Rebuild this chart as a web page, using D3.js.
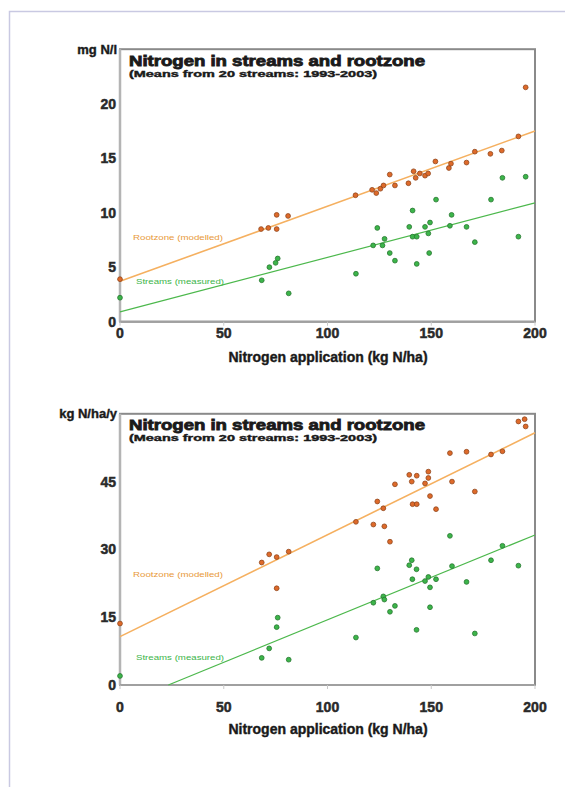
<!DOCTYPE html>
<html>
<head>
<meta charset="utf-8">
<script src="https://cdn.jsdelivr.net/npm/d3@7"></script>
<style>
  body { margin: 0; background: #fff; }
  text { font-family: "Liberation Sans", Arial, sans-serif; }
</style>
</head>
<body>
<div class="canvas"></div>
<script>
// --- data ---
const xTicks = [0, 50, 100, 150, 200];

// top: concentration, mg N/l
const concTicks = [0, 5, 10, 15, 20];
const concRoot = [
  [0, 3.9], [68, 8.5], [71.5, 8.6], [75.5, 8.5], [75.5, 9.8], [81, 9.7],
  [113.5, 11.6], [121.5, 12.1], [123.5, 11.8], [125.5, 12.2], [127, 12.5],
  [130, 13.5], [132.5, 12.5], [139, 12.7], [141.5, 13.8], [142.5, 13.2],
  [144.5, 13.6], [147, 13.4], [148.5, 13.6], [152, 14.7], [158.5, 14.1],
  [159.5, 14.5], [167, 14.6], [171, 15.6], [178.5, 15.4], [184, 15.7],
  [192, 17.0], [195.5, 21.5]
];
const concStream = [
  [0, 2.2], [68.3, 3.8], [72, 5.0], [75, 5.4], [76, 5.8], [81.3, 2.6],
  [113.7, 4.4], [122, 7.0], [124, 8.6], [126.5, 7.0], [127.5, 7.6],
  [130, 6.3], [132.5, 5.6], [139.4, 8.7], [141, 10.2], [141, 7.8],
  [143, 7.8], [143, 5.3], [147, 8.7], [148.6, 8.1], [149.4, 9.1],
  [149, 6.3], [152.3, 11.2], [159, 8.8], [159.8, 9.8], [167, 8.7],
  [171, 7.3], [178.8, 11.2], [184.3, 13.2], [192, 7.8], [195.5, 13.3]
];
const concRootFit = [[0, 3.7], [200, 17.5]];
const concStreamFit = [[0, 0.9], [200, 10.9]];

// bottom: load, kg N/ha/y
const loadTicks = [0, 15, 30, 45];
const loadRoot = [
  [0, 13.6], [68.3, 27.1], [71.9, 28.9], [75.5, 28.3], [81.3, 29.5], [75.5, 21.4],
  [113.7, 36.1], [122.1, 35.5], [124, 40.6], [126.9, 39.1], [127.4, 35.1],
  [130.1, 31.7], [132.5, 44.4], [139.4, 46.5], [140.6, 45.0], [143, 46.3],
  [141, 40.0], [143, 40.0], [147, 44.6], [148.6, 47.2], [148.6, 45.8],
  [149.4, 41.8], [152.3, 38.9], [159, 51.3], [160, 45.0], [167, 51.6],
  [171, 42.8], [178.8, 51.0], [184.3, 51.7], [192, 58.3], [195, 58.8], [195.5, 57.2]
];
const loadStream = [
  [0, 2.0], [68.3, 6.0], [71.9, 8.1], [75.5, 12.8], [76, 14.9], [81.3, 5.6],
  [113.7, 10.5], [122.1, 18.2], [124, 25.8], [126.9, 19.6], [127.4, 18.9],
  [130.1, 16.2], [132.5, 17.5], [139.4, 26.5], [140.6, 27.6], [140.9, 23.4],
  [142.9, 25.6], [142.9, 12.2], [147, 23.0], [148.6, 23.9], [149.4, 21.6],
  [149.4, 17.2], [152.3, 23.4], [159, 33.0], [160, 26.3], [167, 22.8],
  [171, 11.4], [178.8, 27.6], [184.3, 30.8], [192, 26.4]
];
const loadRootFit = [[0, 10.7], [200, 55.8]];
const loadStreamFit = [[23.3, 0], [200, 33.2]];

const title = 'Nitrogen in streams and rootzone';
const subtitle = '(Means from 20 streams: 1993-2003)';
const xTitle = 'Nitrogen application (kg N/ha)';
const rootLabel = 'Rootzone (modelled)';
const streamLabel = 'Streams (measured)';

const colRoot = '#de6a2a', colRootLine = '#f5b060';
const colStream = '#3cb54a', colStreamLine = '#4cb84c';

const svg = d3.select('.canvas')
    .append('svg')
    .attr('width', 565)
    .attr('height', 787)
;

// page frame
svg.append('rect')
    .attr('x', 9.5).attr('y', 11.5)
    .attr('width', 600).attr('height', 800)
    .attr('fill', 'none')
    .attr('stroke', '#c9c9e2')
    .attr('stroke-width', 1.5)
;

const drawChart = (cfg) => {
    const x = d3.scaleLinear().domain([0, 200]).range([120, 535]);
    const y = d3.scaleLinear().domain(cfg.yDomain).range(cfg.yRange);
    const g = svg.append('g');

    // frame (top + right darker, left + bottom axis grey)
    g.append('rect')
        .attr('x', x(0)).attr('y', y(cfg.yDomain[1]))
        .attr('width', x(200) - x(0)).attr('height', y(0) - y(cfg.yDomain[1]))
        .attr('fill', '#fff')
        .attr('stroke', '#8a8a8a')
        .attr('stroke-width', 2)
    ;
    g.append('line')
        .attr('x1', x(0)).attr('x2', x(0))
        .attr('y1', y(cfg.yDomain[1])).attr('y2', y(0))
        .attr('stroke', '#b4b4b4').attr('stroke-width', 2.5);
    g.append('line')
        .attr('x1', x(0)).attr('x2', x(200))
        .attr('y1', y(0)).attr('y2', y(0))
        .attr('stroke', '#a0a0a0').attr('stroke-width', 2);

    // x ticks
    g.selectAll('.xtick').data(xTicks).enter()
        .append('line')
            .attr('x1', d => x(d)).attr('x2', d => x(d))
            .attr('y1', y(0)).attr('y2', y(0) + 4)
            .attr('stroke', '#c8c8c8')
    ;
    g.selectAll('.xlab').data(xTicks).enter()
        .append('text')
            .attr('x', d => x(d))
            .attr('y', y(0) + cfg.xLabOff)
            .attr('text-anchor', 'middle')
            .attr('font-size', 14)
            .attr('font-weight', 'bold')
            .attr('fill', '#2a2a2a').attr('stroke', '#2a2a2a').attr('stroke-width', 0.5)
            .text(d => d)
    ;
    g.selectAll('.ylab').data(cfg.yTicks).enter()
        .append('text')
            .attr('x', 116)
            .attr('y', d => y(d) + 5)
            .attr('text-anchor', 'end')
            .attr('font-size', 14)
            .attr('font-weight', 'bold')
            .attr('fill', '#2a2a2a').attr('stroke', '#2a2a2a').attr('stroke-width', 0.5)
            .text(d => d)
    ;

    g.append('text')
        .attr('x', 328).attr('y', y(0) + cfg.xTitleOff)
        .attr('text-anchor', 'middle')
        .attr('font-size', 14).attr('font-weight', 'bold')
        .attr('fill', '#1a1a1a').attr('stroke', '#1a1a1a').attr('stroke-width', 0.4)
        .text(xTitle);

    g.append('text')
        .attr('x', 117).attr('y', cfg.unitY)
        .attr('text-anchor', 'end')
        .attr('font-size', 13).attr('font-weight', 'bold')
        .attr('fill', '#1a1a1a').attr('stroke', '#1a1a1a').attr('stroke-width', 0.4)
        .text(cfg.unit);

    g.append('text')
        .attr('x', 129).attr('y', cfg.titleY)
        .attr('font-size', 14).attr('font-weight', 'bold')
        .attr('textLength', 296).attr('lengthAdjust', 'spacingAndGlyphs')
        .attr('fill', '#1a1a1a').attr('stroke', '#1a1a1a').attr('stroke-width', 0.8)
        .text(title);
    g.append('text')
        .attr('x', 129).attr('y', cfg.titleY + 11)
        .attr('font-size', 9).attr('font-weight', 'bold')
        .attr('textLength', 248).attr('lengthAdjust', 'spacingAndGlyphs')
        .attr('fill', '#1a1a1a').attr('stroke', '#1a1a1a').attr('stroke-width', 0.4)
        .text(subtitle);

    // fitted lines
    const line = d3.line().x(d => x(d[0])).y(d => y(d[1]));
    g.append('path').datum(cfg.rootFit)
        .attr('d', line).attr('fill', 'none')
        .attr('stroke', colRootLine).attr('stroke-width', 1.6);
    g.append('path').datum(cfg.streamFit)
        .attr('d', line).attr('fill', 'none')
        .attr('stroke', colStreamLine).attr('stroke-width', 1.2);

    // labels on lines
    g.append('text')
        .attr('x', 133).attr('y', cfg.rootLabY)
        .attr('font-size', 7).attr('textLength', 90).attr('lengthAdjust', 'spacingAndGlyphs')
        .attr('fill', '#e89a3a')
        .text(rootLabel);
    g.append('text')
        .attr('x', 136).attr('y', cfg.streamLabY)
        .attr('font-size', 7).attr('textLength', 88).attr('lengthAdjust', 'spacingAndGlyphs')
        .attr('fill', '#3cb54a')
        .text(streamLabel);

    // points
    const dots = (data, col) => {
        g.append('g').selectAll('circle').data(data).enter()
            .append('circle')
                .attr('cx', d => x(d[0]))
                .attr('cy', d => y(d[1]))
                .attr('r', 2.4)
                .attr('fill', col)
                .attr('stroke', d3.color(col).darker(1.2))
                .attr('stroke-width', 0.8)
        ;
    };
    dots(cfg.root, colRoot);
    dots(cfg.stream, colStream);
};

drawChart({
    yDomain: [0, 25], yRange: [321.7, 49.2], yTicks: concTicks,
    unit: 'mg N/l', unitY: 54, titleY: 66,
    xLabOff: 16, xTitleOff: 40,
    root: concRoot, stream: concStream,
    rootFit: concRootFit, streamFit: concStreamFit,
    rootLabY: 240, streamLabY: 284
});

drawChart({
    yDomain: [0, 60], yRange: [685, 413.8], yTicks: loadTicks,
    unit: 'kg N/ha/y', unitY: 418, titleY: 430,
    xLabOff: 27, xTitleOff: 49,
    root: loadRoot, stream: loadStream,
    rootFit: loadRootFit, streamFit: loadStreamFit,
    rootLabY: 577, streamLabY: 660
});
</script>
</body>
</html>
